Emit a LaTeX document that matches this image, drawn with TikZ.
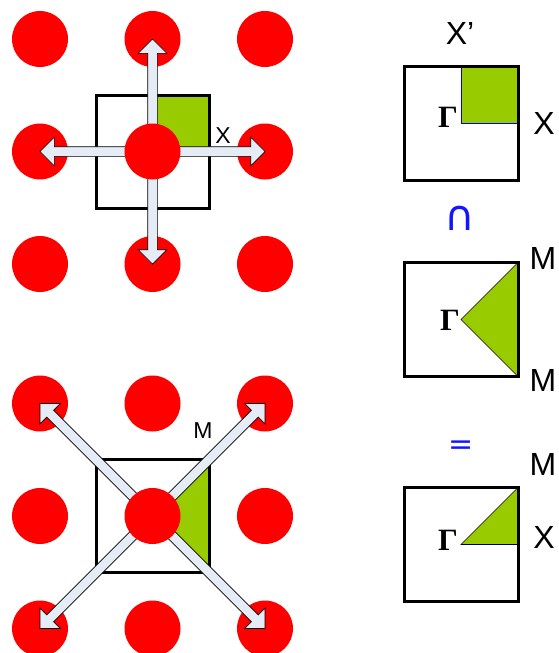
\documentclass[tikz,border=0pt]{standalone}
\usepackage{fontspec}
\setmainfont{Liberation Sans}
\newfontfamily\gammafont{Liberation Serif}
\newfontfamily\opfont{DejaVu Sans}
\usetikzlibrary{shapes.arrows}

\definecolor{atomred}{HTML}{FF0000}
\definecolor{zonegreen}{HTML}{99CC00}
\definecolor{arrowfill}{HTML}{E6ECF5}
\definecolor{opblue}{HTML}{1414FF}

\begin{document}
\begin{tikzpicture}[x=1pt,y=-1pt,
  atom/.style={circle,fill=atomred,minimum size=56pt,inner sep=0pt},
  cell/.style={draw=black,line width=3pt,minimum size=113pt,inner sep=0pt,outer sep=0pt},
  hop/.style={double arrow,draw=black,line width=0.7pt,fill=arrowfill,inner xsep=0pt,inner ysep=4.5pt,
    double arrow head extend=9.5pt,double arrow tip angle=90},
  small/.style={font=\fontsize{23}{23}\selectfont},
  big/.style={font=\fontsize{32}{32}\selectfont},
  op/.style={font=\opfont\fontsize{30}{30}\selectfont,text=opblue},
  gam/.style={font=\gammafont\bfseries\fontsize{31}{31}\selectfont,anchor=base east,inner sep=0pt}]

\useasboundingbox (0,0) rectangle (558,653);

% nearest neighbours (X)
\coordinate (ca) at (152.5,151.5);
\fill[zonegreen] (ca) rectangle ++(56.5,-56.5);
\node[cell] (sqa) at (ca) {};
\foreach \i/\j in {0/0,1/0,2/0,0/1,2/1,0/2,1/2,2/2}
  \node[atom] (a\i\j) at ({40+112.5*\i},{39+112.5*\j}) {};
\node[hop,minimum height=225pt,rotate=90] (va) at (ca) {};
\node[hop,minimum height=225pt] (ha) at (ca) {};
\node[atom] (a11) at (ca) {};
\node[small] (xa) at (223,136) {X};

% next nearest neighbours (M)
\coordinate (cb) at (152.5,516);
\fill[zonegreen] (cb) -- ++(56.5,-56.5) -- ++(0,113) -- cycle;
\node[cell] (sqb) at (cb) {};
\foreach \i/\j in {0/0,1/0,2/0,0/1,2/1,0/2,1/2,2/2}
  \node[atom] (b\i\j) at ({40+112.5*\i},{403.5+112.5*\j}) {};
\node[hop,minimum height=318pt,rotate=45] (da) at (cb) {};
\node[hop,minimum height=318pt,rotate=-45] (db) at (cb) {};
\node[atom] (b11) at (cb) {};
\node[small] (ma) at (203,431) {M};

% X' zone
\coordinate (gx) at (461,123.5);
\filldraw[zonegreen,draw=blue,line width=0.8pt] (gx) rectangle ++(57,-57);
\node[cell,minimum size=114pt] (bx) at (gx) {};
\node[big] (xp) at (460,33) {X’};
\node[big] (xr) at (544,123) {X};
\node[gam] (ga) at (458,127) {Γ};
\node[op,font=\opfont\fontsize{42}{42}\selectfont] (cap) at (460,218) {∩};

% M zone
\coordinate (gm) at (461,319.5);
\filldraw[zonegreen,draw=black,line width=0.6pt] (gm) -- ++(57,-57) -- ++(0,114) -- cycle;
\node[cell,minimum size=114pt] (bm) at (gm) {};
\node[big] (mt) at (543,258) {M};
\node[big] (mb) at (543,380) {M};
\node[gam] (gb) at (460,330) {Γ};
\node[op] (eq) at (461,448) {=};

% result
\coordinate (gr) at (461,544.5);
\filldraw[zonegreen,draw=black,line width=0.6pt] (gr) -- ++(57,-57) -- ++(0,57) -- cycle;
\node[cell,minimum size=114pt] (br) at (gr) {};
\node[big] (mr) at (543,464) {M};
\node[big] (xs) at (544,537) {X};
\node[gam] (gc) at (458,550) {Γ};
\end{tikzpicture}
\end{document}
